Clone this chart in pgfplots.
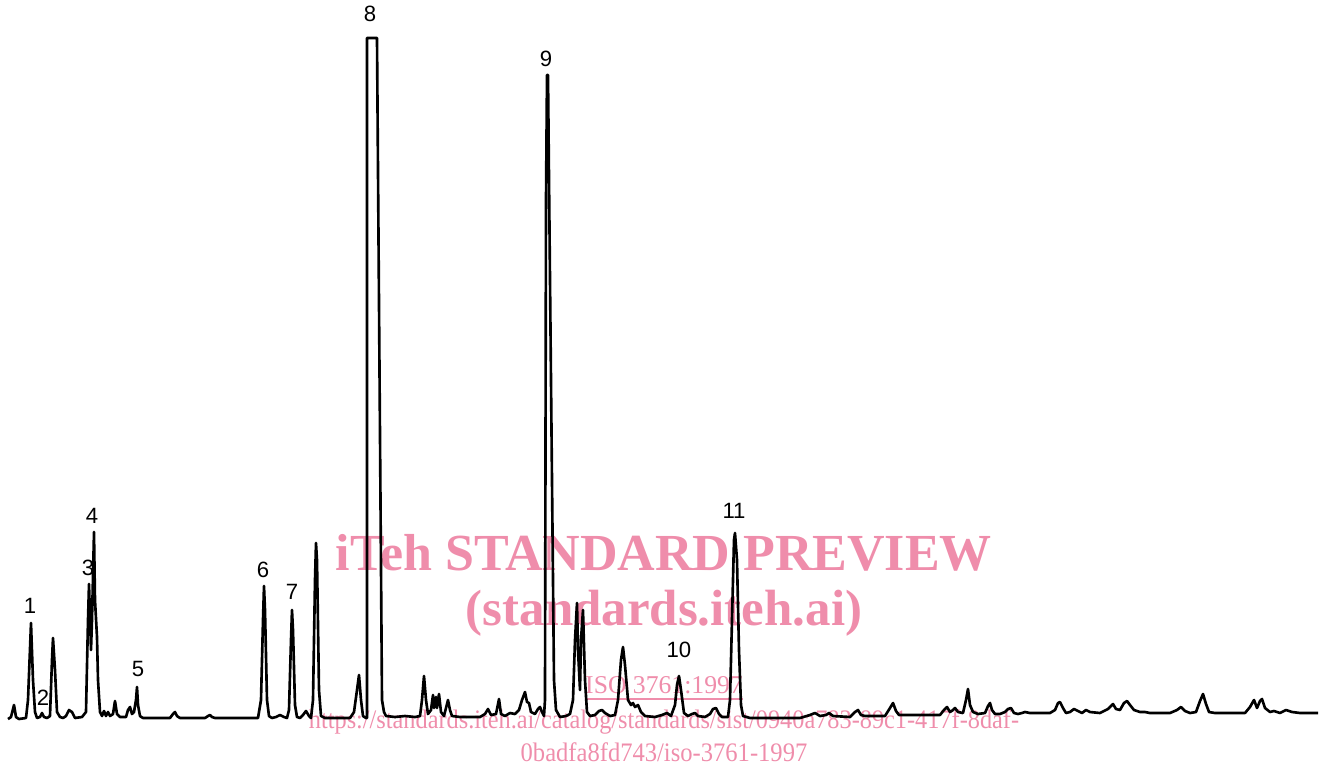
\documentclass[border=0pt]{standalone}
\usepackage{fontspec}
\usepackage{graphicx}
\usepackage{pgfplots}
\pgfplotsset{compat=1.18}
\setmainfont{Liberation Serif}
\newfontfamily\lab{Liberation Sans}
\definecolor{wm}{RGB}{239,141,171}
\begin{document}
\begin{tikzpicture}
\begin{axis}[
  width=13.21cm, height=7.67cm, scale only axis,
  xmin=0, xmax=1321, ymin=0, ymax=767, y dir=reverse,
  axis lines=none, clip=false,
]
\path (axis cs:0,0) rectangle (axis cs:1321,767);
% watermark
\node[text=wm,font=\bfseries\fontsize{14.8}{16}\selectfont] at (axis cs:664,553) {iTeh STANDARD PREVIEW};
\node[text=wm,font=\bfseries\fontsize{14.5}{16}\selectfont] at (axis cs:664,613) {(standards.iteh.ai)};
\node[text=wm,font=\fontsize{7.3}{8}\selectfont] at (axis cs:664,689) {\underline{ISO 3761:1997}};
\node[text=wm,font=\fontsize{7.6}{8}\selectfont] at (axis cs:664,722) {\scalebox{0.91}[1]{https://standards.iteh.ai/catalog/standards/sist/0940a783-89c1-417f-8daf-}};
\node[text=wm,font=\fontsize{7.6}{8}\selectfont] at (axis cs:664,752) {\scalebox{0.92}[1]{0badfa8fd743/iso-3761-1997}};
% trace
\addplot[black, line width=0.75pt, line join=round] coordinates {
(8,719)(11,717)(14,705)(16,717)(19,719)
(26,718)(28,700)(31,623)(33,680)(35,712)(37,718)
(40,717)(42,713)(44,717)(47,718)
(50,716)(52,660)(53,638)(55,670)(57,712)(60,717)
(63,718)(66,716)(69,710)(72,712)(75,718)
(82,717)(86,712)(88,620)(89,584)(91,650)(92,620)(94,532)(95,600)(97,637)(98,680)(100,712)(102,716)
(104,711)(106,716)(108,712)(110,716)(113,714)(115,701)(117,714)(120,717)
(126,717)(128,710)(130,707)(132,714)(134,712)(136,700)(137,687)(138,705)(140,716)(143,718)
(170,718)(173,714)(175,712)(177,716)(180,718)
(205,718)(208,716)(210,715)(212,717)(215,718)
(258,718)(261,700)(263,620)(264,586)(265,610)(267,700)(269,716)(272,718)
(276,717)(280,715)(284,717)(287,718)
(289,710)(291,640)(292,610)(293,630)(295,705)(297,717)(300,718)
(303,715)(306,711)(309,716)(311,718)
(313,700)(315,580)(316,543)(317,560)(319,690)(321,716)(325,718)
(350,718)(354,712)(357,690)(359,675)(361,700)(363,716)(366,718)
(367,718)(367,38)(377,38)(382,700)(384,712)(386,716)(395,717)(405,716)(415,717)(420,716)
(422,700)(424,676)(426,700)(428,714)(431,710)(433,695)(434,708)(436,697)(437,708)(439,694)(441,712)(444,716)
(446,708)(448,700)(450,710)(452,716)(460,717)(480,717)(485,714)(488,709)(491,715)(496,714)(499,699)(501,714)
(505,716)(510,713)(515,714)(519,710)(522,700)(525,692)(527,702)(529,703)(531,712)(535,714)(538,709)(540,707)(542,712)(544,716)
(545,700)(546,200)(547,75)(548,75)(551,380)(554,680)(556,710)(560,717)(566,716)(570,714)
(573,700)(575,640)(577,603)(578,650)(580,690)(581,640)(583,610)(585,680)(587,712)(590,716)
(595,715)(599,711)(602,710)(605,713)(610,716)(615,715)(618,700)(621,660)(623,647)(625,665)(628,700)
(631,705)(633,703)(635,707)(638,705)(641,712)(645,716)(655,717)(662,715)(667,713)(671,716)
(675,705)(677,685)(679,676)(681,690)(684,713)(688,716)(692,714)(695,713)(698,716)(705,717)
(710,714)(713,709)(716,708)(719,714)(722,717)(728,717)
(730,700)(732,620)(734,540)(735,533)(737,560)(739,650)(741,705)(743,716)(750,718)
(800,718)(810,715)(815,713)(820,716)(826,715)(829,713)(833,716)(850,717)(855,712)(858,710)(861,715)(865,716)
(885,716)(890,708)(893,703)(896,711)(899,715)(940,715)(944,710)(947,707)(950,712)(953,710)(955,708)(958,712)
(963,713)(966,700)(968,689)(970,705)(973,712)(978,714)(985,713)(988,706)(990,703)(992,710)(995,714)
(1000,714)(1005,712)(1008,709)(1011,708)(1014,713)(1018,714)(1022,713)(1025,712)(1030,713)(1050,713)
(1055,710)(1058,703)(1060,702)(1063,708)(1066,713)(1070,712)(1074,709)(1078,711)(1082,713)(1086,710)(1090,712)
(1100,713)(1108,709)(1113,704)(1116,709)(1120,710)(1124,703)(1127,701)(1130,705)(1134,710)(1140,712)(1145,712)
(1150,713)(1170,713)(1177,710)(1181,707)(1185,711)(1190,713)(1196,712)(1200,701)(1203,694)(1206,704)(1209,712)
(1215,713)(1245,713)(1250,707)(1254,700)(1257,708)(1260,701)(1262,699)(1265,708)(1270,712)(1274,711)
(1280,713)(1286,710)(1292,712)(1300,713)(1310,713)(1318,713)
};
% peak labels
\begin{scope}[every node/.style={font=\lab\fontsize{6.3}{7}\selectfont, inner sep=0pt}]
\node at (axis cs:370,14) {8};
\node at (axis cs:546,59) {9};
\node at (axis cs:30,606) {1};
\node at (axis cs:43,698) {2};
\node at (axis cs:88,568) {3};
\node at (axis cs:92,516) {4};
\node at (axis cs:138,669) {5};
\node at (axis cs:263,570) {6};
\node at (axis cs:292,592) {7};
\node at (axis cs:679,650) {10};
\node at (axis cs:734,511) {11};
\end{scope}
\end{axis}
\end{tikzpicture}
\end{document}
